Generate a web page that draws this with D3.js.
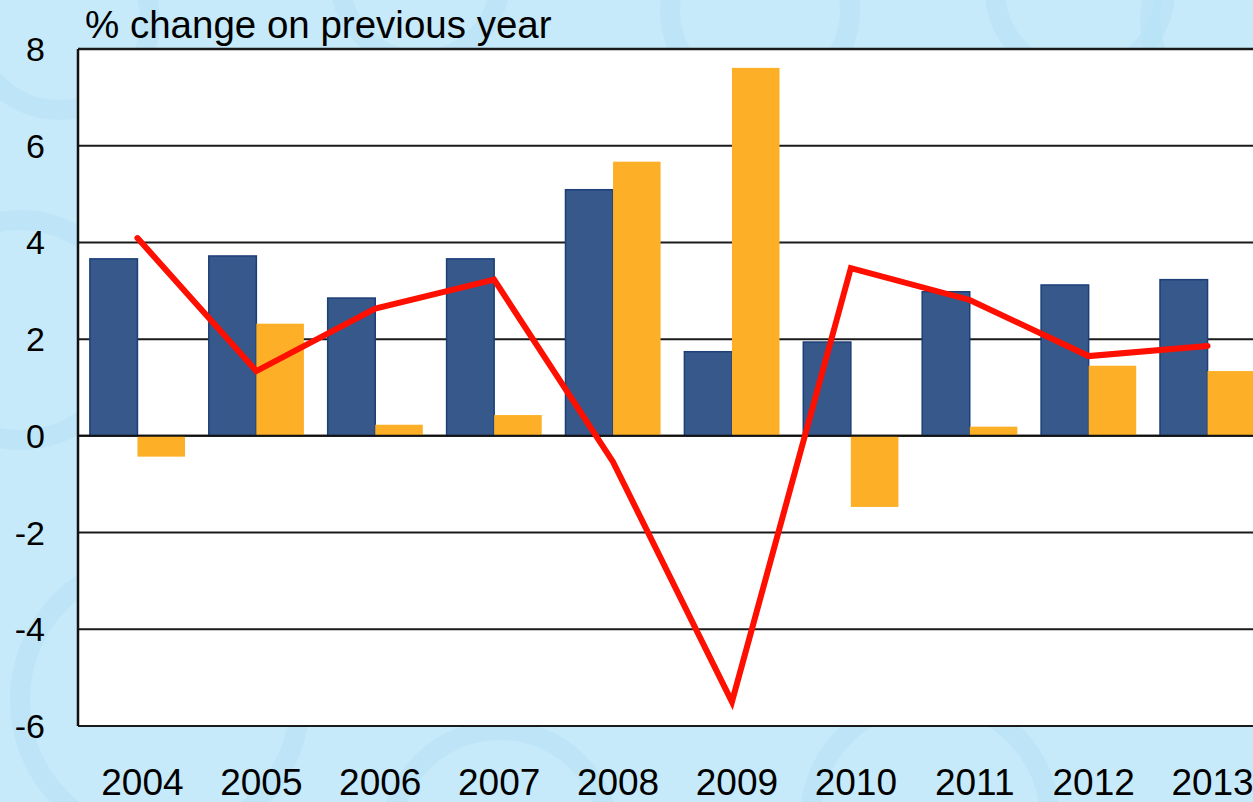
<!DOCTYPE html>
<html>
<head>
<meta charset="utf-8">
<script src="https://cdn.jsdelivr.net/npm/d3@7"></script>
<style>
  html, body { margin: 0; padding: 0; background: #c6eaf9; }
  svg { display: block; font-family: "Liberation Sans", Arial, sans-serif; }
</style>
</head>
<body>
<svg id="chart" width="1253" height="802"></svg>
<script>
// chart data
const years = ["2004","2005","2006","2007","2008","2009","2010","2011","2012","2013"]
const blueValues = [3.66, 3.72, 2.85, 3.66, 5.09, 1.74, 1.94, 2.98, 3.12, 3.23]
const orangeValues = [-0.43, 2.32, 0.23, 0.43, 5.67, 7.61, -1.47, 0.19, 1.45, 1.34]
const lineValues = [4.09, 1.34, 2.63, 3.23, -0.54, -5.50, 3.47, 2.81, 1.65, 1.86]
const yTicks = [8, 6, 4, 2, 0, -2, -4, -6]
const title = "% change on previous year"

const svg = d3.select("#chart")

// faint euro-like circles in the background
const rings = [[60, 20, 90], [420, -20, 80], [760, 10, 90], [1080, -10, 85], [1230, 20, 80],
               [20, 330, 110], [160, 700, 140], [930, 820, 120], [500, 840, 110]]
svg.append("g").selectAll("circle").data(rings).enter()
  .append("circle")
  .attr("cx", d => d[0]).attr("cy", d => d[1]).attr("r", d => d[2])
  .attr("fill", "none").attr("stroke", "#b4e0f3").attr("stroke-width", 20).attr("opacity", 0.45)

const plotL = 78, plotR = 1267, plotT = 49, plotB = 726

const x = d3.scaleBand().domain(years).range([plotL, plotR]).paddingInner(0.2).paddingOuter(0.1)
const xs = d3.scaleBand().domain(["blue", "orange"]).range([0, x.bandwidth()])
const y = d3.scaleLinear().domain([-6, 8]).range([plotB, plotT])

// white plot area
svg.append("rect")
  .attr("x", plotL).attr("y", plotT)
  .attr("width", plotR - plotL).attr("height", plotB - plotT)
  .attr("fill", "#fff")

// grid lines
svg.append("g").selectAll("line").data(yTicks).enter()
  .append("line")
  .attr("x1", plotL).attr("x2", plotR)
  .attr("y1", d => y(d)).attr("y2", d => y(d))
  .attr("stroke", "#1a1a1a").attr("stroke-width", d => d === 8 ? 2.5 : 2)

// bars
const groups = svg.append("g").selectAll("g").data(years).enter()
  .append("g").attr("transform", d => `translate(${x(d)},0)`)

groups.append("rect")
  .attr("x", xs("blue"))
  .attr("width", xs.bandwidth())
  .attr("y", (d, i) => y(Math.max(0, blueValues[i])))
  .attr("height", (d, i) => Math.abs(y(blueValues[i]) - y(0)))
  .attr("fill", "#36588a").attr("stroke", "#1c3f78").attr("stroke-width", 1.5)

groups.append("rect")
  .attr("x", xs("orange"))
  .attr("width", xs.bandwidth())
  .attr("y", (d, i) => y(Math.max(0, orangeValues[i])))
  .attr("height", (d, i) => Math.abs(y(orangeValues[i]) - y(0)))
  .attr("fill", "#fdb027")

// zero line on top of bars
svg.append("line")
  .attr("x1", plotL).attr("x2", plotR)
  .attr("y1", y(0)).attr("y2", y(0))
  .attr("stroke", "#111").attr("stroke-width", 2)

// left frame
svg.append("line")
  .attr("x1", plotL).attr("x2", plotL)
  .attr("y1", plotT).attr("y2", plotB)
  .attr("stroke", "#111").attr("stroke-width", 2.5)

// red line
const line = d3.line()
  .x((d, i) => x(years[i]) + x.bandwidth() / 2)
  .y(d => y(d))
svg.append("path")
  .datum(lineValues)
  .attr("d", line)
  .attr("fill", "none").attr("stroke", "#fe0f00").attr("stroke-width", 6)
  .attr("stroke-linejoin", "miter").attr("stroke-linecap", "round")

// y tick labels
svg.append("g").selectAll("text").data(yTicks).enter()
  .append("text")
  .attr("x", 45).attr("y", d => y(d) + 12)
  .attr("text-anchor", "end")
  .attr("font-size", 34).attr("fill", "#000")
  .text(d => d)

// x labels (sit a little right of the band centre, as in the original)
svg.append("g").selectAll("text").data(years).enter()
  .append("text")
  .attr("x", d => x(d) + x.bandwidth() / 2 + 5)
  .attr("y", 795)
  .attr("text-anchor", "middle")
  .attr("font-size", 37).attr("fill", "#000")
  .text(d => d)

svg.append("text")
  .attr("x", 85).attr("y", 38)
  .attr("font-size", 38.5).attr("fill", "#000")
  .text(title)
</script>
</body>
</html>
